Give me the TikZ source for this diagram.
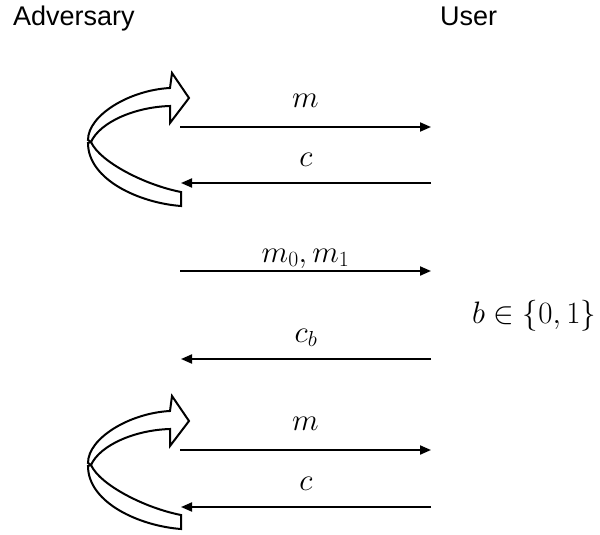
\RequirePackage{fix-cm}
\documentclass[tikz,border=0pt]{standalone}
\usepackage[no-math]{fontspec}
\setmainfont{Liberation Sans}
\usetikzlibrary{arrows.meta}

\begin{document}
\begin{tikzpicture}[
				x=1pt, y=-1pt,
				party/.style={
					anchor=base west,
					inner sep=0pt,
					font=\fontsize{27}{32}\selectfont
				},
				msg/.style={
					-{Triangle[length=11pt,width=9pt]},
					line width=2pt
				},
				lbl/.style={
					midway,
					anchor=base,
					inner sep=0pt,
					yshift=17pt,
					font=\fontsize{31}{36}\selectfont
				},
				selfloop/.pic={
					\filldraw[fill=white, line width=2pt]
						(-92,16) .. controls (-92,53) and (-40,76) .. (1,79)
						-- (1,65) .. controls (-35,58) and (-80,35) .. (-89,15) -- cycle;
					\filldraw[fill=white, line width=2pt]
						(-10,-39) .. controls (-50,-37) and (-92,-12) .. (-92,13)
						-- (-89,15) .. controls (-80,-5) and (-45,-20) .. (-10,-21)
						-- (-10,-4) -- (9,-29) -- (-8,-54) -- cycle;
				}
				]
				
				\useasboundingbox (0,0) rectangle (600,535);
				
				\node[party] (adv) at (13,26) {Adversary};
				\node[party] (user) at (440,26) {User};
				
				\coordinate (a1) at (180,127);
				\coordinate (u1) at (431,127);
				\coordinate (a2) at (181,183);
				\coordinate (u2) at (431,183);
				\coordinate (a3) at (180,271);
				\coordinate (u3) at (431,271);
				\coordinate (a4) at (181,359);
				\coordinate (u4) at (431,359);
				\coordinate (a5) at (180,450);
				\coordinate (u5) at (431,450);
				\coordinate (a6) at (181,507);
				\coordinate (u6) at (431,507);
				
				\pic at (a1) {selfloop};
				\pic at (a5) {selfloop};
				
				\draw[msg] (a1) -- node[lbl, yshift=3pt] (m) {$m$} (u1);
				\draw[msg] (u2) -- node[lbl] (c) {$c$} (a2);
				\draw[msg] (a3) -- node[lbl, yshift=-8pt] (mm) {$m_0, m_1$} (u3);
				\draw[msg] (u4) -- node[lbl] (cb) {$c_b$} (a4);
				\draw[msg] (a5) -- node[lbl, yshift=3pt] (m') {$m$} (u5);
				\draw[msg] (u6) -- node[lbl] (c') {$c$} (a6);
				
				\node[party, font=\fontsize{31}{36}\selectfont] (bit) at (472,323) {$b \in \{0, 1\}$};
				
			\end{tikzpicture}
\end{document}
